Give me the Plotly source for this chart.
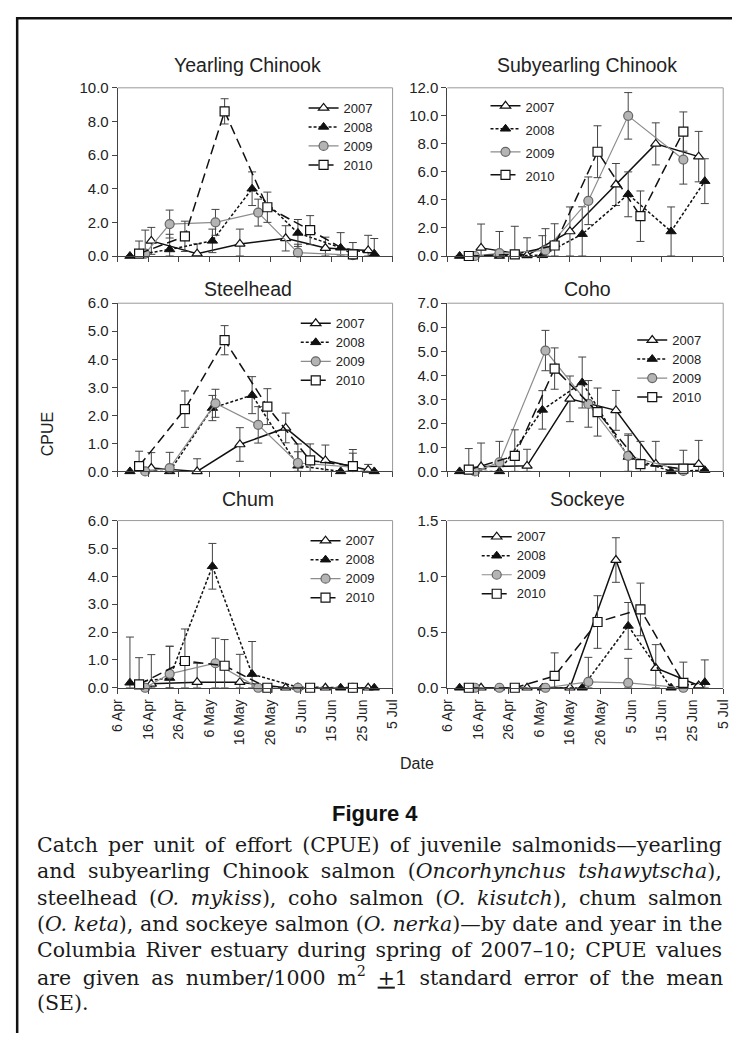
import plotly.graph_objects as go

# page (reference) size and the figure size that fits inside the default 8px body margin
PAGE_W, PAGE_H = 748, 1049
OFF = 8
FW, FH = PAGE_W - 2 * OFF, PAGE_H - 2 * OFF

# ---------------- data ----------------
TICK_DATES = ["2010-04-06", "2010-04-16", "2010-04-26", "2010-05-06", "2010-05-16",
              "2010-05-26", "2010-06-05", "2010-06-15", "2010-06-25", "2010-07-05"]
TICK_LABELS = ["6 Apr", "16 Apr", "26 Apr", "6 May", "16 May",
               "26 May", "5 Jun", "15 Jun", "25 Jun", "5 Jul"]
YEARS = ["2007", "2008", "2009", "2010"]

DATES_2007 = ["2010-04-17", "2010-05-02", "2010-05-16", "2010-05-31", "2010-06-13", "2010-06-27"]
DATES_2008 = ["2010-04-10", "2010-04-23", "2010-05-07", "2010-05-20", "2010-06-04", "2010-06-18", "2010-06-29"]
DATES_2009 = ["2010-04-15", "2010-04-23", "2010-05-08", "2010-05-22", "2010-06-04", "2010-06-22"]
DATES_2010 = ["2010-04-13", "2010-04-28", "2010-05-11", "2010-05-25", "2010-06-08", "2010-06-22"]

PANEL_TITLES = ["Yearling Chinook", "Subyearling Chinook", "Steelhead", "Coho", "Chum", "Sockeye"]
Y_MAX = [10, 12, 6, 7, 6, 1.5]
Y_STEP = [2, 2, 1, 1, 1, 0.5]

YEARLING_CPUE = [[0.90, 0.14, 0.72, 1.05, 0.47, 0.33],
                 [0.00, 0.39, 0.90, 4.00, 1.37, 0.49, 0.14],
                 [0.14, 1.90, 2.00, 2.58, 0.20, 0.05],
                 [0.14, 1.17, 8.60, 2.90, 1.54, 0.10]]
YEARLING_SE = [[0.80, 0.58, 0.88, 0.75, 0.65, 0.90],
               [0.00, 0.90, 0.70, 1.00, 0.80, 0.90, 0.90],
               [1.40, 0.83, 0.77, 0.80, 0.50, 0.30],
               [0.75, 0.90, 0.75, 0.90, 0.86, 0.70]]

SUBYEARLING_CPUE = [[0.58, 0.05, 1.75, 5.10, 8.00, 7.09],
                    [0.00, 0.00, 0.05, 1.56, 4.40, 1.75, 5.34],
                    [0.00, 0.20, 0.40, 3.94, 10.00, 6.88],
                    [0.00, 0.12, 0.75, 7.44, 2.84, 8.88]]
SUBYEARLING_SE = [[1.70, 1.25, 1.75, 1.50, 1.50, 1.80],
                  [0.00, 0.00, 1.40, 1.95, 1.60, 1.75, 1.60],
                  [0.00, 1.55, 1.55, 1.70, 1.66, 1.75],
                  [0.00, 2.00, 1.55, 1.85, 1.80, 1.40]]

STEELHEAD_CPUE = [[0.12, 0.00, 0.96, 1.55, 0.39, 0.05],
                  [0.00, 0.00, 2.26, 2.72, 0.20, 0.00, 0.00],
                  [0.00, 0.12, 2.43, 1.66, 0.30, 0.15],
                  [0.19, 2.22, 4.68, 2.31, 0.39, 0.19]]
STEELHEAD_SE = [[0.55, 0.45, 0.60, 0.53, 0.55, 0.20],
                [0.00, 0.00, 0.45, 0.66, 0.50, 0.00, 0.00],
                [0.00, 0.56, 0.50, 0.65, 0.68, 0.50],
                [0.53, 0.65, 0.52, 0.64, 0.59, 0.59]]

COHO_CPUE = [[0.20, 0.23, 3.02, 2.54, 0.31, 0.30],
             [0.00, 0.00, 2.56, 3.70, 0.60, 0.00, 0.05],
             [0.00, 0.38, 5.03, 2.81, 0.65, 0.02],
             [0.07, 0.65, 4.28, 2.47, 0.30, 0.11]]
COHO_SE = [[0.98, 0.69, 0.95, 0.83, 0.94, 0.99],
           [0.00, 0.00, 0.80, 1.06, 0.90, 0.00, 0.00],
           [0.00, 0.87, 0.84, 0.97, 0.91, 0.00],
           [0.88, 1.08, 0.86, 1.00, 0.95, 0.77]]

CHUM_CPUE = [[0.14, 0.20, 0.20, 0.00, 0.00, 0.00],
             [0.18, 0.35, 4.36, 0.49, 0.02, 0.00, 0.00],
             [0.00, 0.50, 0.88, 0.00, 0.00, 0.00],
             [0.12, 0.96, 0.79, 0.00, 0.00, 0.00]]
CHUM_SE = [[1.05, 0.68, 1.00, 0.00, 0.00, 0.00],
           [1.64, 1.14, 0.82, 1.17, 0.00, 0.00, 0.00],
           [0.00, 0.99, 0.90, 0.00, 0.00, 0.00],
           [0.96, 1.15, 0.94, 0.00, 0.00, 0.00]]

SOCKEYE_CPUE = [[0.00, 0.00, 0.00, 1.146, 0.177, 0.02],
                [0.00, 0.00, 0.00, 0.00, 0.555, 0.00, 0.05],
                [0.00, 0.00, 0.00, 0.053, 0.044, 0.00],
                [0.00, 0.00, 0.106, 0.59, 0.703, 0.044]]
SOCKEYE_SE = [[0.00, 0.00, 0.00, 0.20, 0.21, 0.00],
              [0.00, 0.00, 0.00, 0.00, 0.21, 0.00, 0.20],
              [0.00, 0.00, 0.00, 0.22, 0.22, 0.00],
              [0.00, 0.00, 0.207, 0.236, 0.236, 0.186]]

CAPTION_TITLE = "Figure 4"
CAPTION_LINES = [
    "Catch per unit of effort (CPUE) of juvenile salmonids\u2014yearling",
    "and subyearling Chinook salmon (<i>Oncorhynchus tshawytscha</i>),",
    "steelhead (<i>O. mykiss</i>), coho salmon (<i>O. kisutch</i>), chum salmon",
    "(<i>O. keta</i>), and sockeye salmon (<i>O. nerka</i>)\u2014by date and year in the",
    "Columbia River estuary during spring of 2007\u201310; CPUE values",
    "are given as number/1000 m<sup>2</sup> <u>+</u>1 standard error of the mean",
    "(SE).",
]
# extra word spacing (px) used to justify each caption line
CAPTION_WORD_SPACING = [3.7, 6.0, 5.2, 0.2, 2.8, 5.2, 0.0]

# ---------------- layout helpers ----------------
DATES = [DATES_2007, DATES_2008, DATES_2009, DATES_2010]
CPUE = [YEARLING_CPUE, SUBYEARLING_CPUE, STEELHEAD_CPUE, COHO_CPUE, CHUM_CPUE, SOCKEYE_CPUE]
SE = [YEARLING_SE, SUBYEARLING_SE, STEELHEAD_SE, COHO_SE, CHUM_SE, SOCKEYE_SE]


def px(x):
    """page pixel x -> paper fraction"""
    return (x - OFF) / FW


def py(y):
    """page pixel y (from top) -> paper fraction"""
    return 1 - (y - OFF) / FH


COL_X = [(112, 393), (449, 731)]
ROW_Y = [(80, 251), (299, 470), (520, 690)]
TITLE_X = [245, 592]
TITLE_Y = [57, 285, 498]
# legend: (line start x, first item center y, item spacing)
LEGEND_POS = [(307, 100, 18.6), (493, 98, 23.0), (299, 319, 18.6),
              (643, 336, 18.6), (309, 540, 18.6), (484, 536, 18.6)]

FONT = "Liberation Sans, Arial, sans-serif"
TXT = "#222222"

STYLES = [
    dict(line=dict(color="#111111", width=1.5, dash="solid"),
         marker=dict(symbol="triangle-up", size=9, color="white", line=dict(color="#111111", width=1.2))),
    dict(line=dict(color="#111111", width=1.5, dash="3px,2px"),
         marker=dict(symbol="triangle-up", size=9, color="#111111", line=dict(color="#111111", width=1))),
    dict(line=dict(color="#8c8c8c", width=1.2, dash="solid"),
         marker=dict(symbol="circle", size=9, color="#b4b4b4", line=dict(color="#666666", width=1.2))),
    dict(line=dict(color="#111111", width=1.5, dash="10px,5px"),
         marker=dict(symbol="square", size=9, color="white", line=dict(color="#111111", width=1.2))),
]

fig = go.Figure()
layout = dict(width=FW, height=FH, margin=dict(l=0, r=0, t=0, b=0),
              paper_bgcolor="white", plot_bgcolor="white",
              font=dict(family=FONT, color=TXT), showlegend=True)
shapes = []
annotations = []

for p in range(6):
    col = p % 2
    row = p // 2
    ax = p + 1
    xs = "" if ax == 1 else str(ax)
    leg = "legend" if ax == 1 else "legend%d" % ax
    x0, x1 = COL_X[col]
    y0, y1 = ROW_Y[row]
    layout["xaxis" + xs] = dict(
        domain=[px(x0), px(x1)], anchor="y" + xs, type="date",
        range=[TICK_DATES[0], TICK_DATES[-1]],
        tickmode="array", tickvals=TICK_DATES, ticktext=TICK_LABELS,
        showticklabels=(row == 2), tickangle=-90,
        tickfont=dict(size=14, color=TXT, family=FONT),
        ticks="outside", ticklen=5, tickcolor="#444", tickwidth=1,
        showline=True, linecolor="#444", linewidth=1,
        showgrid=False, zeroline=False, fixedrange=True)
    layout["yaxis" + xs] = dict(
        domain=[py(y1), py(y0)], anchor="x" + xs,
        range=[0, Y_MAX[p]], dtick=Y_STEP[p], tick0=0, tickformat=".1f",
        tickfont=dict(size=15, color=TXT, family=FONT),
        ticks="outside", ticklen=5, tickcolor="#444", tickwidth=1,
        showline=True, linecolor="#444", linewidth=1,
        showgrid=False, zeroline=False, fixedrange=True)
    # plot-area border (top and right, grey)
    shapes.append(dict(type="line", xref="paper", yref="paper",
                       x0=px(x0), x1=px(x1), y0=py(y0), y1=py(y0),
                       line=dict(color="#9a9a9a", width=1)))
    shapes.append(dict(type="line", xref="paper", yref="paper",
                       x0=px(x1), x1=px(x1), y0=py(y0), y1=py(y1),
                       line=dict(color="#9a9a9a", width=1)))
    annotations.append(dict(text=PANEL_TITLES[p], x=px(TITLE_X[col]), y=py(TITLE_Y[row]),
                            xref="paper", yref="paper", showarrow=False,
                            xanchor="center", yanchor="middle",
                            font=dict(size=19.5, color=TXT, family=FONT)))
    lx, ly, sp = LEGEND_POS[p]
    legfs = (sp - 3) / 1.3
    layout[leg] = dict(x=px(lx - 5), y=py(ly - 5 - sp / 2), xref="paper", yref="paper",
                       xanchor="left", yanchor="top", bgcolor="rgba(0,0,0,0)",
                       borderwidth=0, font=dict(size=legfs, color=TXT, family=FONT),
                       traceorder="normal", tracegroupgap=0, itemclick=False,
                       itemdoubleclick=False)
    for k, yr in enumerate(YEARS):
        vals = CPUE[p][k]
        errs = SE[p][k]
        minus = [min(e, v) for e, v in zip(errs, vals)]
        st = STYLES[k]
        fig.add_trace(go.Scatter(
            x=DATES[k], y=vals, mode="lines+markers",
            name='<span style="font-size:13px">%s</span>' % yr,
            legend=leg, xaxis="x" + xs, yaxis="y" + xs,
            line=st["line"], marker=st["marker"], cliponaxis=False,
            error_y=dict(type="data", symmetric=False, array=errs, arrayminus=minus,
                         color="#444444", thickness=1, width=4),
            hoverinfo="x+y"))

# axis titles
annotations.append(dict(text="CPUE", x=px(40), y=py(432), xref="paper", yref="paper",
                        showarrow=False, textangle=-90, xanchor="center", yanchor="middle",
                        font=dict(size=16, color=TXT, family=FONT)))
annotations.append(dict(text="Date", x=px(418), y=py(767), xref="paper", yref="paper",
                        showarrow=False, xanchor="center", yanchor="middle",
                        font=dict(size=16, color=TXT, family=FONT)))

# caption
annotations.append(dict(text="<b>%s</b>" % CAPTION_TITLE, x=px(375), y=py(818),
                        xref="paper", yref="paper", showarrow=False,
                        xanchor="center", yanchor="middle",
                        font=dict(size=22, color="#111111", family=FONT)))
CAP_Y0, CAP_DY = 850, 26.7
for i, line in enumerate(CAPTION_LINES):
    txt = '<span style="word-spacing:%.1fpx">%s</span>' % (CAPTION_WORD_SPACING[i], line)
    annotations.append(dict(text=txt, x=px(27), y=py(CAP_Y0 + i * CAP_DY),
                            xref="paper", yref="paper", showarrow=False,
                            xanchor="left", yanchor="middle",
                            font=dict(size=20.5, color="#1a1a1a",
                                      family="DejaVu Serif, Liberation Serif, serif")))

# page frame (top and left rules), as close to the page corner as the figure allows
shapes.append(dict(type="line", xref="paper", yref="paper", x0=px(OFF), x1=1,
                   y0=py(OFF + 1.2), y1=py(OFF + 1.2),
                   line=dict(color="#111111", width=2.5)))
shapes.append(dict(type="line", xref="paper", yref="paper", x0=px(OFF + 1.2), x1=px(OFF + 1.2),
                   y0=py(OFF), y1=0,
                   line=dict(color="#111111", width=2.5)))

layout["shapes"] = shapes
layout["annotations"] = annotations
fig.update_layout(**layout)
fig.write_html("out.html", config={"displayModeBar": False})
